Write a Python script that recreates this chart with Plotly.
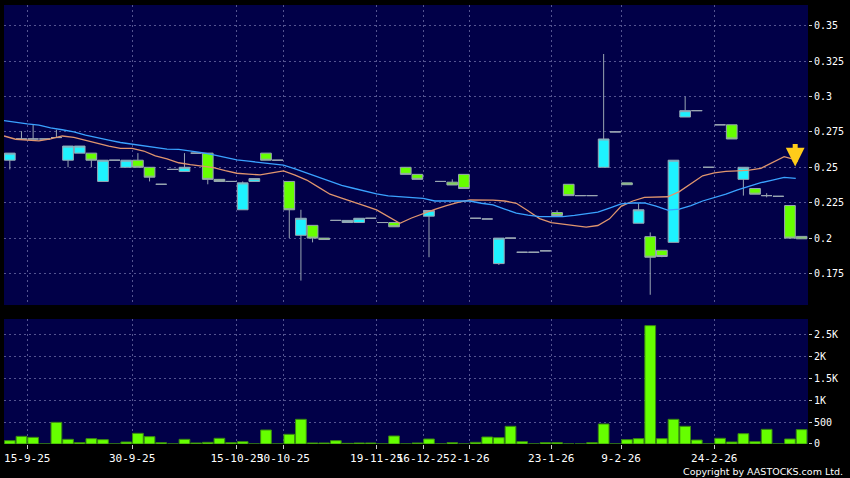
import plotly.graph_objects as go

# ---------------- data ----------------
opens = [0.255, 0.27, 0.27, 0.27, 0.271, 0.255, 0.26, 0.26, 0.24, 0.255,
         0.25, 0.255, 0.25, 0.238, 0.2485, 0.247, 0.26, 0.26, 0.2415, 0.24,
         0.22, 0.24, 0.26, 0.255, 0.24, 0.202, 0.209, 0.2, 0.2125, 0.211,
         0.211, 0.214, 0.211, 0.211, 0.25, 0.245, 0.2155, 0.24, 0.2395, 0.245,
         0.214, 0.2135, 0.182, 0.2, 0.19, 0.19, 0.191, 0.218, 0.238, 0.23,
         0.23, 0.25, 0.275, 0.239, 0.2105, 0.201, 0.1914, 0.197, 0.2855, 0.29,
         0.25, 0.28, 0.28, 0.2415, 0.235, 0.23, 0.2295, 0.223, 0.2012]
highs = [0.26, 0.2755, 0.28, 0.27, 0.2765, 0.265, 0.265, 0.26, 0.255, 0.255,
         0.255, 0.26, 0.25, 0.238, 0.2485, 0.26, 0.26, 0.26, 0.2415, 0.24,
         0.24, 0.242, 0.26, 0.255, 0.24, 0.22, 0.209, 0.2, 0.2125, 0.2125,
         0.214, 0.214, 0.211, 0.211, 0.25, 0.245, 0.2195, 0.24, 0.2415, 0.245,
         0.214, 0.2135, 0.2, 0.2, 0.19, 0.19, 0.191, 0.2196, 0.238, 0.23,
         0.23, 0.33, 0.275, 0.239, 0.2245, 0.204, 0.1914, 0.255, 0.30, 0.29,
         0.25, 0.28, 0.28, 0.25, 0.235, 0.2317, 0.2295, 0.223, 0.2012]
lows = [0.2485, 0.27, 0.27, 0.27, 0.271, 0.25, 0.26, 0.25, 0.24, 0.255,
        0.25, 0.25, 0.24, 0.238, 0.2485, 0.247, 0.26, 0.238, 0.24, 0.24,
        0.22, 0.24, 0.255, 0.255, 0.2, 0.17, 0.197, 0.199, 0.2125, 0.211,
        0.211, 0.214, 0.211, 0.208, 0.245, 0.2415, 0.1865, 0.24, 0.2375, 0.235,
        0.214, 0.2135, 0.181, 0.2, 0.19, 0.19, 0.191, 0.216, 0.23, 0.23,
        0.23, 0.25, 0.275, 0.2377, 0.2105, 0.16, 0.1865, 0.197, 0.2855, 0.29,
        0.25, 0.28, 0.27, 0.23, 0.231, 0.2288, 0.2295, 0.2, 0.1995]
closes = [0.26, 0.27, 0.27, 0.27, 0.271, 0.265, 0.265, 0.255, 0.255, 0.255,
          0.255, 0.25, 0.243, 0.238, 0.2485, 0.25, 0.26, 0.2415, 0.24, 0.24,
          0.239, 0.242, 0.255, 0.255, 0.22, 0.214, 0.2, 0.199, 0.2125, 0.2125,
          0.214, 0.214, 0.211, 0.208, 0.245, 0.2415, 0.2195, 0.24, 0.2375, 0.235,
          0.214, 0.2135, 0.2, 0.2, 0.19, 0.19, 0.191, 0.216, 0.23, 0.23,
          0.23, 0.27, 0.275, 0.2377, 0.22, 0.1865, 0.187, 0.255, 0.29, 0.29,
          0.25, 0.28, 0.27, 0.25, 0.231, 0.23, 0.2295, 0.2, 0.1995]
volumes = [76, 175, 152, 0, 495, 107, 30, 122, 99, 0,
           46, 244, 168, 30, 0, 107, 23, 38, 130, 30,
           53, 0, 320, 0, 221, 564, 23, 23, 76, 15,
           23, 23, 0, 183, 0, 23, 114, 0, 30, 0,
           38, 160, 145, 404, 53, 0, 30, 30, 0, 0,
           30, 457, 0, 99, 122, 2705, 122, 564, 404, 91,
           0, 130, 46, 236, 53, 335, 0, 114, 328]
# moving averages, one value per half-step starting half a session before the first candle
ma_short = [0.2721, 0.2698, 0.2692, 0.2686, 0.2700, 0.2721, 0.2712, 0.2690, 0.2668, 0.2650,
            0.2634, 0.2634, 0.2615, 0.2580, 0.2560, 0.2532, 0.2519, 0.2508, 0.2497, 0.2476,
            0.2458, 0.2452, 0.2446, 0.2460, 0.2474, 0.2445, 0.2410, 0.2360, 0.2310, 0.2283,
            0.2257, 0.2228, 0.2199, 0.2150, 0.2105, 0.2142, 0.2175, 0.2203, 0.2229, 0.2252,
            0.2269, 0.2269, 0.2268, 0.2262, 0.2246, 0.2193, 0.2138, 0.2110, 0.2098, 0.2087,
            0.2077, 0.2089, 0.2136, 0.2224, 0.2262, 0.2288, 0.2292, 0.2292, 0.2328, 0.2383,
            0.2440, 0.2460, 0.2471, 0.2475, 0.2480, 0.2493, 0.2535, 0.2575, 0.2552]
ma_long = [0.2830, 0.2817, 0.2806, 0.2798, 0.2778, 0.2765, 0.2750, 0.2727, 0.2712, 0.2692,
           0.2675, 0.2663, 0.2652, 0.2638, 0.2628, 0.2627, 0.2617, 0.2604, 0.2588, 0.2570,
           0.2552, 0.2543, 0.2534, 0.2525, 0.2516, 0.2489, 0.2461, 0.2429, 0.2402, 0.2372,
           0.2352, 0.2332, 0.2312, 0.2298, 0.2292, 0.2287, 0.2281, 0.2262, 0.2262, 0.2262,
           0.2262, 0.2246, 0.2234, 0.2205, 0.2177, 0.2163, 0.2151, 0.2151, 0.2151, 0.2160,
           0.2172, 0.2183, 0.2212, 0.2241, 0.2248, 0.2248, 0.2225, 0.2198, 0.2205, 0.2230,
           0.2262, 0.2285, 0.2310, 0.2340, 0.2365, 0.2391, 0.2410, 0.2429, 0.2422]
date_labels = ["15-9-25", "30-9-25", "15-10-25", "30-10-25", "19-11-25",
               "16-12-25", "2-1-26", "23-1-26", "9-2-26", "24-2-26"]
date_label_index = [1, 10, 19, 23, 31, 35, 39, 46, 52, 60]
price_ticks = [0.175, 0.2, 0.225, 0.25, 0.275, 0.3, 0.325, 0.35]
price_tick_text = ["0.175", "0.2", "0.225", "0.25", "0.275", "0.3", "0.325", "0.35"]
vol_ticks = [0, 500, 1000, 1500, 2000, 2500]
vol_tick_text = ["0", "500", "1K", "1.5K", "2K", "2.5K"]

# ---------------- figure ----------------
x = list(range(len(opens)))
ma_x = [i - 0.5 for i in range(len(ma_short))]
tickpos = [i + 0.5 for i in date_label_index]

NAVY = "#010048"
GRID = "rgba(120,120,175,0.7)"
FONT = "DejaVu Sans"
MONO = "DejaVu Sans Mono"

fig = go.Figure()
fig.add_trace(go.Candlestick(
    x=x, open=opens, high=highs, low=lows, close=closes,
    increasing=dict(line=dict(color="#9aa6b2", width=1), fillcolor="#1ef2ff"),
    decreasing=dict(line=dict(color="#9aa6b2", width=1), fillcolor="#66ff00"),
    whiskerwidth=0, showlegend=False, hoverinfo="skip",
    xaxis="x", yaxis="y"))
fig.add_trace(go.Scatter(x=ma_x, y=ma_short, mode="lines",
                         line=dict(color="#e0956e", width=1.3),
                         showlegend=False, hoverinfo="skip", xaxis="x", yaxis="y"))
fig.add_trace(go.Scatter(x=ma_x, y=ma_long, mode="lines",
                         line=dict(color="#3aa2ff", width=1.3),
                         showlegend=False, hoverinfo="skip", xaxis="x", yaxis="y"))
fig.add_trace(go.Bar(x=x, y=volumes, width=0.92,
                     marker=dict(color="#66ff00", line=dict(color="#3a8a10", width=1)),
                     showlegend=False, hoverinfo="skip", xaxis="x2", yaxis="y2"))

xrange = [-0.5, 68.55]
common_x = dict(range=xrange, tickmode="array", tickvals=tickpos, showgrid=True,
                gridcolor=GRID, griddash="2px,3px", gridwidth=1, zeroline=False,
                showline=False, rangeslider=dict(visible=False), fixedrange=True)

fig.update_layout(
    width=850, height=478,
    margin=dict(l=4, r=42, t=5, b=34),
    paper_bgcolor="black", plot_bgcolor=NAVY,
    font=dict(family=FONT, color="white", size=11),
    boxgap=0.08, boxgroupgap=0, bargap=0.08,
    xaxis=dict(domain=[0, 1], anchor="y", showticklabels=False, ticks="", **common_x),
    xaxis2=dict(domain=[0, 1], anchor="y2", ticktext=date_labels, ticks="outside",
                ticklen=4, tickcolor="#cccccc", tickangle=0,
                tickfont=dict(family=MONO, size=11, color="white"), **common_x),
    yaxis=dict(domain=[0.3166, 1], range=[0.15275, 0.3646], side="right",
               tickmode="array", tickvals=price_ticks, ticktext=price_tick_text,
               ticks="outside", ticklen=3, tickcolor="#cccccc",
               tickfont=dict(family=MONO, size=10, color="white"),
               showgrid=True, gridcolor=GRID, griddash="2px,3px", zeroline=False,
               showline=False, fixedrange=True),
    yaxis2=dict(domain=[0, 0.2847], range=[0, 2856], side="right",
                tickmode="array", tickvals=vol_ticks, ticktext=vol_tick_text,
                ticks="outside", ticklen=3, tickcolor="#cccccc",
                tickfont=dict(family=MONO, size=10, color="white"),
                showgrid=True, gridcolor=GRID, griddash="2px,3px", zeroline=False,
                showline=False, fixedrange=True),
)

# yellow signal arrow near the latest session
fig.add_annotation(x=67.45, y=0.2505, xref="x", yref="y", ax=0, ay=-24,
                   showarrow=True, arrowhead=2, arrowsize=0.75, arrowwidth=5,
                   arrowcolor="#ffcc1a", text="")

fig.add_annotation(text="Copyright by AASTOCKS.com Ltd.", xref="paper", yref="paper",
                   x=1, y=0, xanchor="right", yanchor="middle", xshift=37, yshift=-27,
                   showarrow=False, font=dict(family=FONT, size=9.5, color="white"))

fig.write_html("out.html", config={"displayModeBar": False, "staticPlot": True})

# remove the browser's default page margin so the 850x478 figure fills the window exactly
with open("out.html", "r", encoding="utf-8") as f:
    html = f.read()
html = html.replace("<head>", "<head><style>html,body{margin:0;padding:0;background:#000;overflow:hidden;}</style>", 1)
with open("out.html", "w", encoding="utf-8") as f:
    f.write(html)
